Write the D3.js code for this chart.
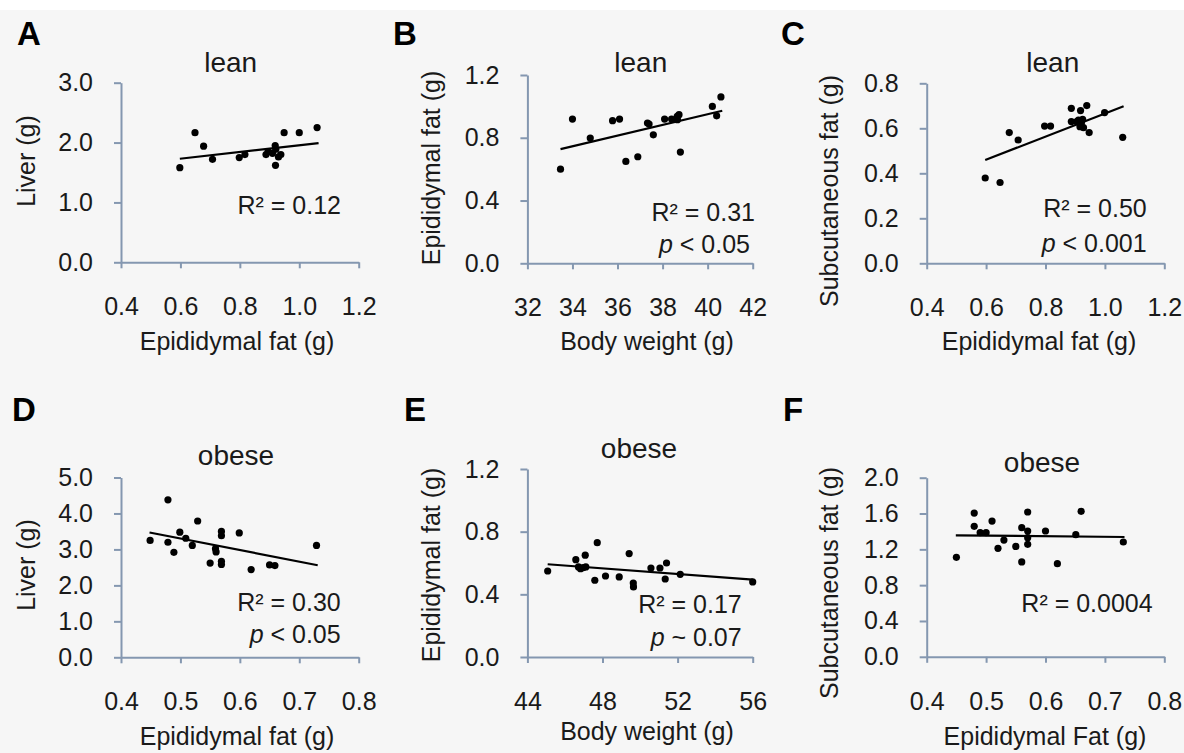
<!DOCTYPE html>
<html>
<head>
<meta charset="utf-8">
<script src="https://cdn.jsdelivr.net/npm/d3@7"></script>
<style>
  html, body { margin: 0; padding: 0; background: #ffffff; }
  svg { display: block; font-family: "Liberation Sans", Arial, sans-serif; }
</style>
</head>
<body>
<svg id="chart" width="1184" height="753"></svg>
<script>
// ---------------- DATA ----------------
const panelLetters = ["A", "B", "C", "D", "E", "F"];
const groupTitles = ["lean", "lean", "lean", "obese", "obese", "obese"];
const xTitles = ["Epididymal fat (g)", "Body weight (g)", "Epididymal fat (g)",
                 "Epididymal fat (g)", "Body weight (g)", "Epididymal Fat (g)"];
const yTitles = ["Liver (g)", "Epididymal fat (g)", "Subcutaneous fat (g)",
                 "Liver (g)", "Epididymal fat (g)", "Subcutaneous fat (g)"];
const r2Labels = ["0.12", "0.31", "0.50", "0.30", "0.17", "0.0004"];
const pLabels = [null, "< 0.05", "< 0.001", "< 0.05", "~ 0.07", null];

const xTicksA = [0.4, 0.6, 0.8, 1.0, 1.2];
const yTicksA = [0, 1, 2, 3];
const xTicksB = [32, 34, 36, 38, 40, 42];
const yTicksB = [0, 0.4, 0.8, 1.2];
const xTicksC = [0.4, 0.6, 0.8, 1.0, 1.2];
const yTicksC = [0, 0.2, 0.4, 0.6, 0.8];
const xTicksD = [0.4, 0.5, 0.6, 0.7, 0.8];
const yTicksD = [0, 1, 2, 3, 4, 5];
const xTicksE = [44, 48, 52, 56];
const yTicksE = [0, 0.4, 0.8, 1.2];
const xTicksF = [0.4, 0.5, 0.6, 0.7, 0.8];
const yTicksF = [0, 0.4, 0.8, 1.2, 1.6, 2.0];

// A: lean, epididymal fat vs liver
const aX = [0.598, 0.649, 0.678, 0.708, 0.798, 0.817, 0.888, 0.895, 0.919, 0.921, 0.910, 0.930, 0.938, 0.920, 0.949, 1.000, 1.060];
const aY = [1.58, 2.165, 1.94, 1.72, 1.75, 1.80, 1.80, 1.85, 1.95, 1.89, 1.82, 1.76, 1.80, 1.62, 2.165, 2.165, 2.25];
const aTrend = [[0.598, 1.73], [1.065, 1.99]];

// B: lean, body weight vs epididymal fat
const bX = [33.47, 34.0, 34.79, 35.78, 36.09, 36.37, 36.9, 37.33, 37.4, 37.59, 38.09, 38.4, 38.65, 38.73, 38.66, 38.79, 40.21, 40.4, 40.59];
const bY = [0.60, 0.919, 0.798, 0.909, 0.919, 0.649, 0.679, 0.894, 0.887, 0.819, 0.919, 0.919, 0.936, 0.947, 0.915, 0.709, 1.00, 0.94, 1.06];
const bTrend = [[33.47, 0.728], [40.65, 0.972]];

// C: lean, epididymal fat vs subcutaneous fat
const cX = [0.597, 0.647, 0.678, 0.708, 0.797, 0.817, 0.887, 0.887, 0.918, 0.939, 0.911, 0.921, 0.916, 0.928, 0.947, 0.999, 1.06, 0.905, 0.925];
const cY = [0.379, 0.359, 0.581, 0.548, 0.61, 0.61, 0.689, 0.63, 0.679, 0.701, 0.637, 0.625, 0.607, 0.603, 0.581, 0.67, 0.56, 0.63, 0.64];
const cTrend = [[0.597, 0.459], [1.063, 0.698]];

// D: obese, epididymal fat vs liver
const dX = [0.449, 0.479, 0.479, 0.489, 0.499, 0.509, 0.520, 0.529, 0.550, 0.559, 0.560, 0.569, 0.569, 0.569, 0.569, 0.599, 0.619, 0.650, 0.659, 0.729];
const dY = [3.25, 4.38, 3.20, 2.92, 3.48, 3.31, 3.11, 3.79, 2.62, 3.02, 2.93, 3.50, 3.38, 2.67, 2.58, 3.46, 2.44, 2.57, 2.55, 3.11];
const dTrend = [[0.448, 3.47], [0.731, 2.56]];

// E: obese, body weight vs epididymal fat
const eX = [45.08, 46.58, 46.72, 46.83, 46.97, 47.11, 47.08, 47.59, 47.72, 48.16, 48.89, 49.42, 49.64, 49.65, 50.58, 51.06, 51.34, 51.41, 52.14, 56.0];
const eY = [0.549, 0.621, 0.575, 0.564, 0.570, 0.575, 0.650, 0.490, 0.730, 0.517, 0.511, 0.660, 0.472, 0.447, 0.568, 0.568, 0.498, 0.600, 0.528, 0.479];
const eTrend = [[45.08, 0.592], [56.0, 0.494]];

// F: obese, epididymal fat vs subcutaneous fat
const fX = [0.45, 0.48, 0.48, 0.49, 0.50, 0.51, 0.52, 0.53, 0.55, 0.56, 0.56, 0.57, 0.57, 0.57, 0.57, 0.60, 0.62, 0.651, 0.66, 0.731];
const fY = [1.111, 1.605, 1.457, 1.386, 1.386, 1.516, 1.211, 1.304, 1.233, 1.442, 1.059, 1.617, 1.405, 1.330, 1.256, 1.405, 1.040, 1.364, 1.625, 1.282];
const fTrend = [[0.449, 1.356], [0.733, 1.338]];

// ---------------- BUILD ----------------
const series = [
  { xs: aX, ys: aY, trend: aTrend, xt: xTicksA, yt: yTicksA },
  { xs: bX, ys: bY, trend: bTrend, xt: xTicksB, yt: yTicksB },
  { xs: cX, ys: cY, trend: cTrend, xt: xTicksC, yt: yTicksC },
  { xs: dX, ys: dY, trend: dTrend, xt: xTicksD, yt: yTicksD },
  { xs: eX, ys: eY, trend: eTrend, xt: xTicksE, yt: yTicksE },
  { xs: fX, ys: fY, trend: fTrend, xt: xTicksF, yt: yTicksF }
];

// layout (pixel positions)
const layout = [
  { x0: 121,   x1: 358.7,  y0: 262.3, y1: 82.7,  letter: [17, 45],   title: [230.7, 72],  r2: [341, 214],     p: [341, 252],      yt: [35, 161],  xtl: [237, 350] },
  { x0: 527.4, x1: 752.7,  y0: 263.3, y1: 75,    letter: [393, 45],  title: [640.8, 72],  r2: [755, 221],     p: [750, 252.7],    yt: [440, 168], xtl: [647, 350] },
  { x0: 926.7, x1: 1164.3, y0: 263.3, y1: 83.3,  letter: [781, 45],  title: [1052.8, 72], r2: [1146.7, 216.7], p: [1146.7, 251.7], yt: [838, 191], xtl: [1039, 350] },
  { x0: 121,   x1: 358.7,  y0: 657.3, y1: 477.5, letter: [12, 421],  title: [236, 465],   r2: [340.7, 611],   p: [340.7, 643.3],  yt: [35, 565],  xtl: [237, 745] },
  { x0: 527.4, x1: 752.7,  y0: 657,   y1: 469,   letter: [404, 421], title: [639, 458],   r2: [741.7, 612.7], p: [741.7, 646],    yt: [440, 565], xtl: [647, 740] },
  { x0: 926.7, x1: 1164.3, y0: 656.8, y1: 477.7, letter: [783, 421], title: [1042, 471.7], r2: [1152.7, 611.7], p: null,          yt: [838, 583], xtl: [1045, 745] }
];

const svg = d3.select("#chart");
const textColor = "#1a1a1a";
const axisColor = "#8497b0";

svg.append("rect").attr("x", 0).attr("y", 10).attr("width", 1184).attr("height", 743).attr("fill", "#f6f6f6");

series.forEach((s, i) => {
  const L = layout[i];
  const x = d3.scaleLinear().domain(d3.extent(s.xt)).range([L.x0, L.x1]);
  const y = d3.scaleLinear().domain(d3.extent(s.yt)).range([L.y0, L.y1]);
  const g = svg.append("g");

  const xfmt = s.xt[1] - s.xt[0] >= 1 ? d3.format("d") : d3.format(".1f");
  const xAxis = d3.axisBottom(x).tickValues(s.xt).tickFormat(xfmt).tickSizeInner(6).tickSizeOuter(0).tickPadding(29);
  const yAxis = d3.axisLeft(y).tickValues(s.yt).tickFormat(d3.format(".1f")).tickSizeInner(7).tickSizeOuter(0).tickPadding(21);

  const gx = g.append("g").attr("transform", `translate(0,${L.y0})`).call(xAxis);
  const gy = g.append("g").attr("transform", `translate(${L.x0},0)`).call(yAxis);
  [gx, gy].forEach(ax => {
    ax.select(".domain").attr("stroke", axisColor).attr("stroke-width", 2);
    ax.selectAll(".tick line").attr("stroke", axisColor).attr("stroke-width", 2);
    ax.selectAll(".tick text").attr("fill", textColor).style("font-size", "25px")
      .style("font-family", '"Liberation Sans", Arial, sans-serif');
  });

  // trend line
  g.append("line")
    .attr("x1", x(s.trend[0][0])).attr("y1", y(s.trend[0][1]))
    .attr("x2", x(s.trend[1][0])).attr("y2", y(s.trend[1][1]))
    .attr("stroke", "#000").attr("stroke-width", 2.2);

  // points
  g.selectAll("circle.pt").data(d3.range(s.xs.length)).enter().append("circle")
    .attr("class", "pt")
    .attr("cx", k => x(s.xs[k])).attr("cy", k => y(s.ys[k]))
    .attr("r", 3.6).attr("fill", "#000");

  // panel letter
  g.append("text").attr("x", L.letter[0]).attr("y", L.letter[1])
    .attr("font-size", 33).attr("font-weight", "bold").attr("fill", "#000").text(panelLetters[i]);

  // group title
  g.append("text").attr("x", L.title[0]).attr("y", L.title[1]).attr("text-anchor", "middle")
    .attr("font-size", 28).attr("fill", textColor).text(groupTitles[i]);

  // R2
  g.append("text").attr("x", L.r2[0]).attr("y", L.r2[1]).attr("text-anchor", "end")
    .attr("font-size", 25).attr("fill", textColor).text("R\u00B2 = " + r2Labels[i]);

  // p value
  if (pLabels[i] && L.p) {
    const t = g.append("text").attr("x", L.p[0]).attr("y", L.p[1]).attr("text-anchor", "end")
      .attr("font-size", 25).attr("fill", textColor);
    t.append("tspan").attr("font-style", "italic").text("p");
    t.append("tspan").text(" " + pLabels[i]);
  }

  // x title
  g.append("text").attr("x", L.xtl[0]).attr("y", L.xtl[1]).attr("text-anchor", "middle")
    .attr("font-size", 25).attr("fill", textColor).text(xTitles[i]);

  // y title
  g.append("text").attr("transform", `translate(${L.yt[0]},${L.yt[1]}) rotate(-90)`)
    .attr("text-anchor", "middle")
    .attr("font-size", 25).attr("fill", textColor).text(yTitles[i]);
});
</script>
</body>
</html>
